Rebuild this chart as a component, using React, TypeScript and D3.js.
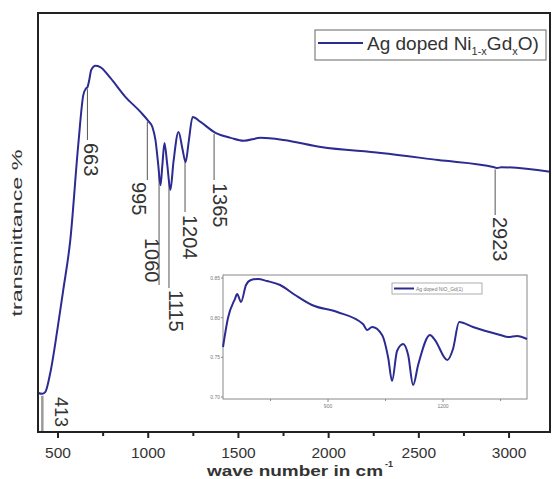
import React from 'react';
import * as d3 from 'd3';

// ---------- data ----------
const WAVENUMBER = [390, 412, 429, 457, 496, 529, 568, 612, 640, 655, 663, 673, 684, 707, 734, 790, 873, 957, 1001, 1023, 1040, 1055, 1068, 1078, 1090, 1105, 1123, 1140, 1168, 1190, 1207, 1225, 1246, 1290, 1373, 1457, 1529, 1623, 1751, 1957, 2290, 2607, 2918, 2934, 2957, 3227];
const TRANSMITTANCE = [9.3, 9.1, 9.5, 14.1, 24.3, 33.9, 45.8, 68.5, 80.4, 82.0, 82.3, 84.0, 86.4, 87.4, 87.1, 84.5, 80.0, 76.4, 74.2, 72.8, 69.7, 64.0, 58.9, 63.5, 69.0, 64.0, 57.8, 64.5, 71.6, 67.5, 64.4, 69.5, 75.2, 74.0, 71.4, 70.2, 69.5, 70.2, 69.7, 68.0, 66.6, 64.9, 63.2, 63.0, 63.2, 62.1];

const INSET_WAVENUMBER = [626, 639, 657, 663, 673, 686, 699, 717, 741, 775, 814, 858, 924, 991, 1002, 1015, 1041, 1057, 1067, 1080, 1096, 1109, 1122, 1135, 1166, 1179, 1211, 1226, 1242, 1278, 1349, 1370, 1393, 1419];
const INSET_VALUES = [0.763, 0.7996, 0.8235, 0.8298, 0.8197, 0.8412, 0.8475, 0.8487, 0.8462, 0.8412, 0.8286, 0.816, 0.8071, 0.792, 0.7845, 0.7882, 0.7782, 0.7492, 0.7202, 0.758, 0.7668, 0.7529, 0.7151, 0.7403, 0.7782, 0.7718, 0.7466, 0.7605, 0.7945, 0.7882, 0.7782, 0.7756, 0.7769, 0.7731];

const X_TICKS = [500, 1000, 1500, 2000, 2500, 3000];
const X_MINOR_TICKS = [750, 1250, 1750, 2250, 2750];
const PEAKS = [413, 663, 995, 1060, 1115, 1204, 1365, 2923];
const PEAK_LABELS = ['413', '663', '995', '1060', '1115', '1204', '1365', '2923'];

const INSET_X_TICKS = [900, 1200];
const INSET_X_MINOR = [750, 1050, 1350];
const INSET_Y_TICKS = [0.7, 0.75, 0.8, 0.85];

const X_TITLE = 'wave number in cm';
const X_TITLE_SUP = '-1';
const Y_TITLE = 'transmittance %';
const INSET_LEGEND = 'Ag doped NiO_Gd(1)';

// ---------- layout (not data) ----------
const W = 554, H = 479;
const PLOT = { left: 38, top: 13, right: 550, bottom: 432 };
const INSET = { left: 223, top: 275, right: 527, bottom: 399 };
// per peak: bottom of leader line, label x offset, label start y
const LABEL_LAYOUT = [
  { lineEnd: 432, dx: 19, textY: 397 },
  { lineEnd: 140, dx: 4, textY: 143 },
  { lineEnd: 180, dx: -8, textY: 182 },
  { lineEnd: 285, dx: -7, textY: 238 },
  { lineEnd: 288, dx: 7, textY: 290 },
  { lineEnd: 212, dx: 5, textY: 215 },
  { lineEnd: 180, dx: 6, textY: 183 },
  { lineEnd: 215, dx: 5, textY: 217 },
];

const CURVE = '#2b2b92';
const TEXT = '#333';
const FONT = 'Liberation Sans, Arial, sans-serif';

export default function App() {
  const x = d3.scaleLinear().domain([389, 3227]).range([PLOT.left, PLOT.right]);
  const y = d3.scaleLinear().domain([0, 100]).range([PLOT.bottom, PLOT.top]);

  const mainData = WAVENUMBER.map((w, i) => [w, TRANSMITTANCE[i]] as [number, number]);
  const line = d3.line<[number, number]>()
    .x(d => x(d[0]))
    .y(d => y(d[1]))
    .curve(d3.curveMonotoneX);

  const interp = (w: number) => {
    const i = d3.bisector((d: number) => d).left(WAVENUMBER, w);
    if (i <= 0) return TRANSMITTANCE[0];
    if (i >= WAVENUMBER.length) return TRANSMITTANCE[TRANSMITTANCE.length - 1];
    const t = (w - WAVENUMBER[i - 1]) / (WAVENUMBER[i] - WAVENUMBER[i - 1]);
    return TRANSMITTANCE[i - 1] + t * (TRANSMITTANCE[i] - TRANSMITTANCE[i - 1]);
  };

  const ix = d3.scaleLinear().domain([626, 1419]).range([INSET.left, INSET.right]);
  const iy = d3.scaleLinear().domain([0.7, 0.85]).range([397, 278]);
  const insetData = INSET_WAVENUMBER.map((w, i) => [w, INSET_VALUES[i]] as [number, number]);
  const insetLine = d3.line<[number, number]>()
    .x(d => ix(d[0]))
    .y(d => iy(d[1]))
    .curve(d3.curveMonotoneX);

  return (
    <svg width={W} height={H} style={{ position: 'absolute', left: 0, top: 0, background: '#fff' }} fontFamily={FONT}>
      <rect x={0} y={0} width={W} height={H} fill="#fff" />

      {/* annotation leader lines */}
      {PEAKS.map((p, i) => {
        const lx = x(p);
        const top = y(interp(p)) + 2;
        const L = LABEL_LAYOUT[i];
        return (
          <line key={'l' + p} x1={lx} x2={lx} y1={top} y2={L.lineEnd}
            stroke={i === 0 ? '#9a9a9a' : '#555'} strokeWidth={i === 0 ? 2.5 : 1} />
        );
      })}

      {/* main curve */}
      <path d={line(mainData) || ''} fill="none" stroke={CURVE} strokeWidth={2} />

      {/* annotation labels */}
      {PEAKS.map((p, i) => {
        const L = LABEL_LAYOUT[i];
        const tx = x(p) + L.dx;
        return (
          <text key={'t' + p} x={tx} y={L.textY} transform={`rotate(90 ${tx} ${L.textY})`}
            fontSize={i === 0 ? 18 : 20} fill={TEXT} dominantBaseline="central" textAnchor="start">
            {PEAK_LABELS[i]}
          </text>
        );
      })}

      {/* frame */}
      <rect x={PLOT.left} y={PLOT.top} width={PLOT.right - PLOT.left} height={PLOT.bottom - PLOT.top}
        fill="none" stroke="#222" strokeWidth={2} />

      {/* x ticks */}
      {X_TICKS.map(t => (
        <g key={'xt' + t}>
          <line x1={x(t)} x2={x(t)} y1={PLOT.bottom} y2={PLOT.bottom + 6} stroke="#222" strokeWidth={2} />
          <text x={x(t)} y={458} fontSize={15.5} fill={TEXT} textAnchor="middle">{t}</text>
        </g>
      ))}
      {X_MINOR_TICKS.map(t => (
        <line key={'xm' + t} x1={x(t)} x2={x(t)} y1={PLOT.bottom} y2={PLOT.bottom + 4} stroke="#222" strokeWidth={2} />
      ))}

      {/* axis titles */}
      <text x={207} y={476} fontSize={15} fontWeight="bold" fill={TEXT} textAnchor="start"
        textLength={176} lengthAdjust="spacingAndGlyphs">{X_TITLE}</text>
      <text x={385} y={467} fontSize={9} fontWeight="bold" fill={TEXT} textAnchor="start">{X_TITLE_SUP}</text>
      <text x={22} y={233} transform="rotate(-90 22 233)" fontSize={14} fill={TEXT} textAnchor="middle"
        textLength={167} lengthAdjust="spacingAndGlyphs">{Y_TITLE}</text>

      {/* legend */}
      <rect x={315} y={30} width={231} height={30} fill="#fff" stroke="#666" strokeWidth={1} />
      <line x1={318} x2={363} y1={43} y2={43} stroke={CURVE} strokeWidth={2} />
      <text x={367} y={50} fontSize={19} fill={TEXT}>
        Ag doped Ni<tspan fontSize={11} dy={5}>1-x</tspan><tspan dy={-5}>Gd</tspan><tspan fontSize={11} dy={5}>x</tspan><tspan dy={-5}>O)</tspan>
      </text>

      {/* inset */}
      <rect x={INSET.left} y={INSET.top} width={INSET.right - INSET.left} height={INSET.bottom - INSET.top}
        fill="#fff" stroke="#888" strokeWidth={1} />
      <path d={insetLine(insetData) || ''} fill="none" stroke={CURVE} strokeWidth={2} />
      {INSET_Y_TICKS.map(t => (
        <g key={'iy' + t}>
          <line x1={INSET.left - 2} x2={INSET.left} y1={iy(t)} y2={iy(t)} stroke="#888" />
          <text x={INSET.left - 3} y={iy(t) + 2} fontSize={5} fill="#777" textAnchor="end">{t.toFixed(2)}</text>
        </g>
      ))}
      {INSET_X_TICKS.map(t => (
        <g key={'ix' + t}>
          <line x1={ix(t)} x2={ix(t)} y1={INSET.bottom} y2={INSET.bottom + 3} stroke="#888" />
          <text x={ix(t)} y={INSET.bottom + 9} fontSize={5} fill="#777" textAnchor="middle">{t}</text>
        </g>
      ))}
      {INSET_X_MINOR.map(t => (
        <line key={'ixm' + t} x1={ix(t)} x2={ix(t)} y1={INSET.bottom} y2={INSET.bottom + 2} stroke="#888" />
      ))}
      <rect x={392} y={283} width={90} height={11} fill="#fff" stroke="#999" strokeWidth={0.8} />
      <line x1={394} x2={414} y1={288.5} y2={288.5} stroke={CURVE} strokeWidth={2} />
      <text x={416} y={290.5} fontSize={5} fill="#777">{INSET_LEGEND}</text>
    </svg>
  );
}
